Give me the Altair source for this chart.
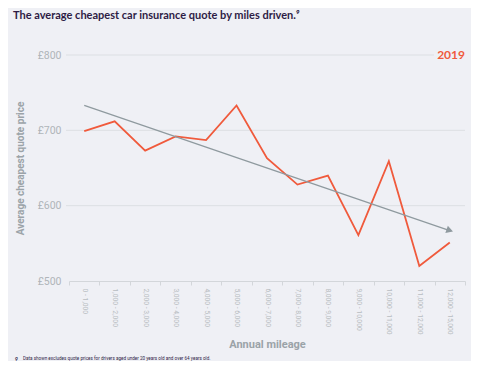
import altair as alt
import pandas as pd

categories = ["0 - 1,000", "1,000 - 2,000", "2,000 - 3,000", "3,000 - 4,000", "4,000 - 5,000",
              "5,000 - 6,000", "6,000 - 7,000", "7,000 - 8,000", "8,000 - 9,000", "9,000 - 10,000",
              "10,000 - 11,000", "11,000 - 12,000", "12,000 - 15,000"]
quotes = [699, 712, 673, 692, 687, 733, 663, 628, 640, 561, 659, 520, 551]
trend_cats = [categories[0], categories[-1]]
trend_vals = [733, 567]
y_ticks = [500, 600, 700, 800]
grid_full = [600, 700]
grid_short = [800]
series_label = "2019"
title_text = "The average cheapest car insurance quote by miles driven.⁹"
footnote_num = "9"
footnote_text = "Data shown excludes quote prices for drivers aged under 20 years old and over 64 years old."

W, H = 396, 226
BG = "#eff0f5"
ORANGE = "#f05a3c"
GRAY = "#8f9a9f"

df = pd.DataFrame({"band": categories, "quote": quotes})
tdf = pd.DataFrame({"band": trend_cats, "quote": trend_vals})

xscale = alt.Scale(type="band", domain=categories, paddingInner=0, paddingOuter=0)
yscale = alt.Scale(domain=[500, 800], nice=False, zero=False)

x_enc = alt.X("band:N", scale=xscale, sort=categories,
              axis=alt.Axis(title="Annual mileage", labelAngle=90, tickBand="extent",
                            labelFont="Roboto", labelFontSize=6.8, labelColor="#b8bdc1",
                            labelPadding=3, tickColor="#d3d6da", domainColor="#d3d6da",
                            tickSize=4, grid=False,
                            titleFont="Roboto", titleFontSize=11, titleFontWeight="bold",
                            titleColor="#9ba3a8", titlePadding=4))
y_enc = alt.Y("quote:Q", scale=yscale,
              axis=alt.Axis(title="Average cheapest quote price", values=y_ticks,
                            labelExpr="'£' + datum.value", labelFont="Roboto",
                            labelFontSize=10.5, labelColor="#b0b5b9", labelPadding=8,
                            domain=False, ticks=False, grid=False,
                            titleFont="Roboto", titleFontSize=10, titleFontWeight="bold",
                            titleColor="#9ba3a8", titlePadding=12))

grid1 = alt.Chart(pd.DataFrame({"g": grid_full})).mark_rule(color="#dcdfe3", strokeWidth=1).encode(
    y=alt.Y("g:Q", scale=yscale), x=alt.value(-3), x2=alt.value(W))
grid2 = alt.Chart(pd.DataFrame({"g": grid_short})).mark_rule(color="#dcdfe3", strokeWidth=1).encode(
    y=alt.Y("g:Q", scale=yscale), x=alt.value(-3), x2=alt.value(W - 31))

line = alt.Chart(df).mark_line(color=ORANGE, strokeWidth=1.8).encode(x=x_enc, y=y_enc)

trend = alt.Chart(tdf).mark_line(color=GRAY, strokeWidth=1.3).encode(
    x=alt.X("band:N", scale=xscale, sort=categories), y=alt.Y("quote:Q", scale=yscale))
arrow = alt.Chart(tdf.iloc[[1]]).mark_point(shape="triangle-right", filled=True, color=GRAY,
                                            size=60, angle=19, opacity=1).encode(
    x=alt.X("band:N", scale=xscale, sort=categories), y=alt.Y("quote:Q", scale=yscale))

label2019 = alt.Chart(pd.DataFrame({"t": [series_label], "v": [800]})).mark_text(
    align="right", baseline="middle", font="Lato", fontSize=12, fontWeight="bold", color=ORANGE).encode(
    text="t:N", y=alt.Y("v:Q", scale=yscale), x=alt.value(W))

title = alt.Chart(pd.DataFrame({"t": [title_text]})).mark_text(
    align="left", baseline="middle", font="Lato", fontSize=11, fontWeight="bold",
    color="#2e1c45").encode(text="t:N", x=alt.value(-56), y=alt.value(-39))

fn_num = alt.Chart(pd.DataFrame({"t": [footnote_num]})).mark_text(
    align="left", baseline="middle", font="Lato", fontSize=5, fontWeight="bold",
    color="#2e1c45").encode(text="t:N", x=alt.value(-54), y=alt.value(304))
fn = alt.Chart(pd.DataFrame({"t": [footnote_text]})).mark_text(
    align="left", baseline="middle", font="Roboto", fontSize=4.6,
    color="#2e1c45").encode(text="t:N", x=alt.value(-46), y=alt.value(304))

chart = alt.layer(grid1, grid2, line, trend, arrow, label2019, title, fn_num, fn).properties(
    width=W, height=H, background=BG,
    autosize=alt.AutoSizeParams(type="none"),
    padding={"left": 61, "top": 47, "right": 6, "bottom": 80},
).configure_view(stroke=None)

chart.save("out.html", embed_options={"renderer": "svg", "actions": False})
